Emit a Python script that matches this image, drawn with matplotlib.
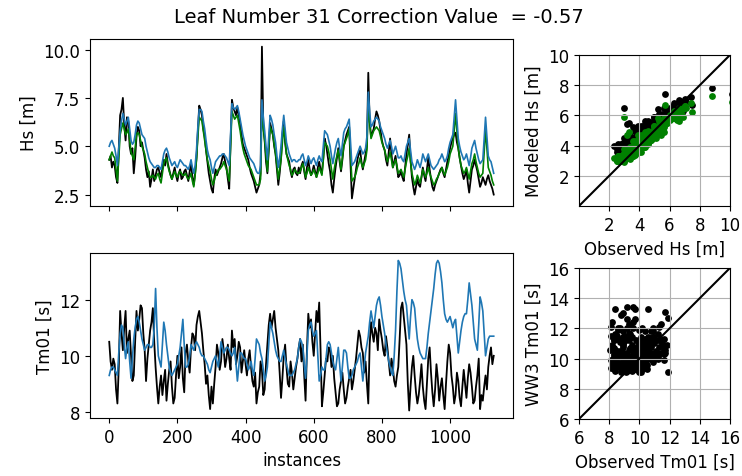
import numpy as np
import matplotlib
matplotlib.use("Agg")
import matplotlib.pyplot as plt

plt.rcParams['font.size'] = 12

# instance index, one value every 4 instances
instances = np.arange(0, 1129, 4)

# Hs observed (black)
obs_hs = [4.3, 4.5, 3.9, 4.2, 4.0, 3.4, 3.1, 4.8, 6.6, 6.9, 7.5, 6.1, 5.3, 6.5, 6.3, 5.0, 4.6, 4.9, 3.6, 4.4,
          5.5, 6.0, 5.8, 5.0, 5.2, 4.8, 4.4, 3.8, 3.4, 3.7, 2.9, 3.3, 3.8, 3.2, 3.5, 3.8, 3.9, 3.6, 3.4, 3.9,
          4.3, 4.0, 4.6, 4.1, 3.8, 3.5, 3.3, 3.6, 3.9, 3.5, 3.2, 3.6, 3.8, 3.3, 3.4, 3.7, 3.8, 3.5, 3.2, 3.7,
          4.1, 3.4, 3.0, 3.6, 4.4, 5.8, 7.1, 6.9, 6.6, 5.9, 5.5, 4.8, 4.2, 3.6, 3.2, 2.8, 2.6, 3.3, 3.8, 3.5,
          3.7, 3.9, 4.1, 4.4, 4.6, 4.2, 3.9, 3.3, 2.8, 5.2, 7.4, 7.0, 6.8, 6.6, 7.0, 6.6, 6.2, 5.6, 5.1, 4.9,
          4.7, 4.5, 4.3, 3.9, 3.6, 3.4, 3.2, 2.9, 2.6, 2.8, 3.0, 3.6, 10.15, 6.0, 5.3, 4.2, 3.6, 4.8, 6.2, 5.9,
          5.6, 5.0, 4.6, 3.8, 3.0, 3.6, 4.4, 5.6, 6.3, 5.2, 4.6, 4.4, 4.2, 3.7, 3.4, 3.8, 3.9, 3.6, 3.5, 3.9,
          3.6, 4.0, 4.2, 3.7, 3.3, 3.9, 4.3, 3.8, 3.5, 3.7, 4.0, 3.7, 3.4, 3.9, 4.2, 3.8, 3.6, 4.4, 5.4, 5.1,
          4.6, 4.1, 3.7, 3.0, 2.6, 3.3, 3.9, 4.4, 4.9, 4.2, 3.7, 4.3, 5.0, 5.3, 5.6, 5.8, 6.0, 4.0, 2.3, 2.8,
          3.3, 3.8, 4.3, 4.6, 4.8, 4.2, 3.8, 4.2, 4.6, 5.0, 8.8, 6.3, 5.5, 5.7, 5.9, 6.4, 6.8, 6.6, 6.3, 5.8,
          5.3, 5.0, 4.8, 4.3, 4.0, 4.7, 5.4, 4.6, 3.9, 4.2, 4.5, 3.9, 3.4, 3.5, 3.7, 3.4, 3.2, 3.9, 4.6, 5.1,
          5.6, 4.3, 3.4, 2.9, 2.5, 2.9, 3.3, 3.0, 2.9, 3.4, 3.9, 3.5, 3.2, 3.8, 4.4, 3.8, 3.3, 2.9, 2.7, 3.0,
          3.2, 3.4, 3.6, 3.8, 3.9, 3.6, 3.4, 3.8, 4.2, 4.5, 4.9, 5.2, 5.4, 5.6, 5.7, 5.2, 4.9, 4.4, 4.0, 3.6,
          3.3, 3.5, 3.8, 3.1, 2.6, 3.2, 3.8, 4.0, 4.3, 4.0, 3.7, 3.3, 2.9, 3.1, 3.4, 3.2, 3.0, 3.3, 3.5, 3.2,
          3.0, 2.8, 2.5]

# Hs WW3 model (blue)
ww3_hs = [5.0, 5.2, 5.3, 5.1, 4.9, 4.5, 4.0, 4.9, 5.8, 6.3, 6.7, 6.4, 6.1, 6.3, 6.5, 5.9, 5.3, 5.1, 5.2, 5.6,
          6.1, 6.3, 6.2, 5.9, 5.6, 5.5, 5.4, 5.0, 4.7, 4.4, 4.2, 4.1, 4.0, 3.9, 3.9, 4.0, 4.0, 3.9, 3.8, 4.2,
          4.6, 4.8, 4.9, 4.7, 4.4, 4.2, 4.0, 4.1, 4.2, 4.0, 3.9, 4.1, 4.3, 4.2, 4.1, 4.0, 4.0, 3.9, 3.8, 4.0,
          4.3, 3.9, 3.6, 4.0, 4.8, 6.0, 6.9, 6.9, 6.8, 6.3, 5.9, 5.3, 4.8, 4.5, 4.3, 3.9, 3.6, 3.9, 4.2, 4.3,
          4.4, 4.5, 4.5, 4.6, 4.6, 4.5, 4.4, 4.2, 4.0, 5.6, 7.2, 7.0, 6.9, 7.0, 7.1, 6.8, 6.4, 6.0, 5.6, 5.3,
          5.0, 4.8, 4.6, 4.4, 4.3, 4.2, 4.1, 3.9, 3.7, 3.6, 3.6, 4.0, 7.4, 6.5, 5.8, 5.0, 4.3, 5.5, 6.6, 6.4,
          6.1, 5.6, 5.2, 4.5, 3.9, 4.4, 5.0, 5.9, 6.6, 5.9, 5.2, 4.9, 4.6, 4.4, 4.2, 4.3, 4.3, 4.2, 4.2, 4.3,
          4.3, 4.5, 4.6, 4.3, 4.0, 4.2, 4.5, 4.3, 4.1, 4.3, 4.4, 4.2, 4.0, 4.3, 4.5, 4.3, 4.2, 5.0, 5.8, 5.7,
          5.6, 5.3, 5.0, 4.5, 4.1, 4.5, 4.9, 5.2, 5.4, 4.9, 4.5, 5.1, 5.7, 5.9, 6.0, 6.2, 6.4, 5.2, 4.0, 4.1,
          4.2, 4.4, 4.6, 4.8, 5.0, 4.8, 4.6, 4.7, 4.9, 5.5, 7.8, 6.8, 6.0, 6.1, 6.3, 6.4, 6.5, 6.4, 6.3, 6.0,
          5.8, 5.6, 5.4, 5.1, 4.9, 5.1, 5.3, 5.0, 4.6, 4.8, 5.0, 4.7, 4.4, 4.4, 4.5, 4.3, 4.2, 4.6, 5.0, 5.2,
          5.4, 4.8, 4.2, 4.0, 3.8, 4.0, 4.3, 4.1, 3.9, 4.2, 4.6, 4.4, 4.2, 4.4, 4.6, 4.3, 4.0, 3.9, 3.8, 3.9,
          4.0, 4.1, 4.3, 4.4, 4.6, 4.4, 4.2, 4.3, 4.5, 4.9, 5.2, 5.4, 5.6, 6.5, 7.4, 6.4, 5.4, 5.0, 4.7, 4.5,
          4.3, 4.4, 4.6, 4.3, 4.0, 4.4, 4.9, 5.1, 5.3, 4.9, 4.6, 4.3, 4.1, 4.2, 4.3, 5.4, 6.5, 5.5, 4.5, 4.3,
          4.2, 3.9, 3.6]

# Hs corrected model (green)
cor_hs = [4.3, 4.5, 4.7, 4.5, 4.4, 3.8, 3.2, 4.4, 5.6, 5.9, 6.2, 5.9, 5.6, 5.7, 5.9, 5.3, 4.7, 4.5, 4.3, 4.9,
          5.6, 5.7, 5.6, 5.3, 5.0, 4.8, 4.6, 4.2, 3.9, 3.6, 3.4, 3.4, 3.5, 3.4, 3.3, 3.5, 3.6, 3.3, 3.1, 3.6,
          4.1, 4.3, 4.4, 4.0, 3.7, 3.5, 3.3, 3.5, 3.7, 3.5, 3.4, 3.6, 3.7, 3.6, 3.5, 3.5, 3.6, 3.4, 3.3, 3.4,
          3.6, 3.2, 2.9, 3.5, 4.3, 5.5, 6.5, 6.4, 6.3, 5.8, 5.3, 4.8, 4.3, 4.0, 3.7, 3.3, 3.0, 3.2, 3.5, 3.6,
          3.8, 3.8, 3.9, 4.0, 4.2, 4.0, 3.8, 3.5, 3.2, 5.0, 6.8, 6.6, 6.4, 6.5, 6.6, 6.2, 5.8, 5.3, 4.9, 4.6,
          4.4, 4.2, 4.0, 3.9, 3.8, 3.6, 3.4, 3.2, 3.0, 3.0, 3.0, 3.3, 6.9, 6.0, 5.3, 4.5, 3.7, 4.9, 6.0, 5.8,
          5.6, 5.1, 4.6, 4.0, 3.3, 3.8, 4.3, 5.2, 6.0, 5.3, 4.6, 4.3, 4.0, 3.8, 3.5, 3.6, 3.8, 3.7, 3.6, 3.6,
          3.7, 3.9, 4.1, 3.8, 3.4, 3.6, 3.9, 3.7, 3.5, 3.6, 3.8, 3.6, 3.4, 3.6, 3.9, 3.7, 3.5, 4.3, 5.2, 5.1,
          5.0, 4.7, 4.3, 3.8, 3.3, 3.8, 4.2, 4.5, 4.8, 4.3, 3.8, 4.4, 5.0, 5.2, 5.4, 5.6, 5.9, 4.5, 3.2, 3.3,
          3.4, 3.6, 3.9, 4.1, 4.4, 4.1, 3.9, 4.1, 4.3, 4.8, 7.3, 6.3, 5.4, 5.6, 5.8, 5.9, 6.0, 5.9, 5.8, 5.5,
          5.2, 5.0, 4.8, 4.5, 4.2, 4.4, 4.7, 4.3, 3.9, 4.1, 4.3, 4.0, 3.6, 3.7, 3.8, 3.6, 3.4, 3.8, 4.2, 4.5,
          4.9, 4.2, 3.6, 3.3, 3.0, 3.2, 3.5, 3.3, 3.1, 3.4, 3.8, 3.6, 3.4, 3.6, 3.9, 3.6, 3.4, 3.2, 3.0, 3.1,
          3.3, 3.4, 3.6, 3.7, 3.9, 3.7, 3.5, 3.7, 3.9, 4.2, 4.6, 4.8, 5.0, 5.8, 6.7, 5.8, 4.9, 4.4, 4.0, 3.8,
          3.6, 3.7, 3.9, 3.6, 3.3, 3.7, 4.1, 4.3, 4.6, 4.2, 3.9, 3.6, 3.4, 3.5, 3.6, 4.7, 5.9, 4.9, 3.9, 3.7,
          3.5, 3.2, 3.0]

# Tm01 observed (black)
obs_tm = [10.5, 9.8, 9.5, 9.9, 9.7, 8.8, 8.3, 9.6, 11.6, 10.8, 10.2, 11.0, 11.6, 10.1, 10.6, 10.9, 10.0, 9.1, 9.3, 10.5,
          11.6, 10.9, 11.3, 11.8, 11.7, 10.8, 10.2, 9.1, 9.9, 10.4, 10.9, 11.2, 11.7, 10.5, 9.6, 8.9, 8.3, 8.9, 9.3, 8.6,
          9.1, 9.5, 8.4, 9.0, 9.5, 9.8, 8.9, 8.3, 8.5, 9.3, 10.0, 9.2, 9.6, 10.3, 9.2, 8.7, 10.1, 10.4, 9.8, 9.4,
          10.3, 10.8, 10.7, 10.2, 11.1, 11.4, 11.6, 11.2, 10.8, 10.2, 9.7, 9.0, 9.3, 8.6, 8.1, 8.9, 8.3, 9.0, 9.6, 10.4,
          10.1, 9.5, 9.8, 10.6, 10.2, 9.6, 9.9, 10.4, 9.9, 9.5, 10.9, 10.3, 10.6, 9.7, 10.0, 10.5, 10.3, 9.4, 9.8, 10.2,
          9.7, 9.3, 9.9, 10.2, 9.6, 9.1, 8.9, 9.4, 8.3, 8.7, 8.9, 9.8, 9.5, 8.6, 8.8, 9.7, 10.4, 11.1, 11.5, 11.0,
          11.3, 11.6, 11.0, 10.6, 10.2, 9.4, 8.5, 9.2, 10.0, 10.4, 9.6, 9.0, 8.9, 9.8, 9.4, 8.8, 9.2, 9.6, 9.9, 10.3,
          10.6, 9.8, 10.4, 9.3, 8.4, 10.2, 11.5, 11.0, 11.3, 10.5, 10.0, 10.8, 11.6, 11.2, 11.9, 10.2, 8.2, 8.7, 9.3, 9.9,
          9.8, 10.3, 10.2, 9.6, 10.0, 9.2, 8.7, 8.2, 8.3, 8.8, 9.1, 9.4, 8.8, 8.3, 8.5, 8.9, 9.2, 9.5, 8.8, 9.1,
          9.5, 9.9, 10.4, 10.9, 10.7, 10.3, 10.1, 9.4, 9.8, 9.0, 8.3, 10.4, 11.2, 10.8, 10.5, 11.0, 10.8, 10.2, 11.3, 10.9,
          10.6, 10.2, 10.0, 10.7, 10.3, 9.8, 9.3, 9.9, 9.6, 9.1, 8.9, 9.3, 9.6, 10.6, 11.7, 11.9, 11.4, 10.9, 10.4, 9.0,
          8.05, 8.9, 9.6, 10.0, 9.3, 8.7, 8.3, 8.6, 9.1, 9.7, 8.9, 8.4, 8.1, 9.0, 9.9, 10.3, 9.4, 8.7, 8.2, 8.8,
          9.7, 9.2, 8.4, 8.9, 9.2, 8.6, 8.1, 9.0, 9.8, 10.4, 10.1, 9.3, 8.9, 8.3, 8.6, 9.4, 9.1, 8.5, 8.2, 8.9,
          9.5, 9.0, 8.5, 9.2, 9.7, 9.4, 8.9, 8.3, 8.4, 8.9, 9.3, 9.9, 8.1, 8.6, 8.4, 8.9, 9.3, 8.8, 9.6, 10.0,
          10.3, 9.7, 10.0]

# Tm01 WW3 model (blue)
ww3_tm = [9.3, 9.5, 9.6, 9.6, 9.5, 9.4, 9.3, 10.1, 10.8, 11.1, 11.0, 10.4, 9.9, 10.3, 10.5, 9.8, 9.2, 9.9, 10.6, 11.0,
          11.3, 11.4, 11.2, 10.9, 10.6, 10.4, 10.2, 10.3, 10.4, 10.4, 10.3, 10.3, 10.4, 11.0, 12.4, 11.0, 10.0, 9.8, 9.6, 10.4,
          11.2, 10.9, 10.4, 10.0, 9.6, 9.4, 9.3, 9.4, 9.5, 9.6, 9.7, 10.0, 10.3, 10.8, 11.3, 10.4, 9.6, 9.6, 9.7, 10.0,
          10.4, 10.3, 10.2, 10.4, 10.5, 10.4, 10.3, 10.1, 10.0, 10.0, 9.9, 9.8, 9.7, 9.5, 9.4, 9.6, 9.8, 9.9, 10.0, 9.8,
          9.6, 10.0, 10.5, 10.3, 10.1, 10.2, 10.3, 10.3, 10.2, 10.1, 10.0, 10.1, 10.3, 9.7, 9.1, 9.6, 10.1, 10.1, 10.0, 9.9,
          9.9, 9.7, 9.5, 9.6, 9.8, 9.5, 9.3, 9.9, 10.6, 10.5, 10.4, 10.1, 9.9, 9.5, 9.1, 9.3, 9.6, 10.4, 11.2, 11.0,
          10.8, 10.5, 10.2, 10.0, 9.9, 9.8, 9.8, 10.0, 10.2, 9.9, 9.7, 9.5, 9.3, 9.3, 9.3, 9.4, 9.5, 9.7, 9.9, 10.3,
          10.6, 10.5, 10.3, 9.7, 9.2, 10.0, 10.9, 11.1, 11.2, 10.9, 10.7, 10.8, 10.9, 10.0, 9.1, 9.3, 9.6, 9.5, 9.5, 9.9,
          10.4, 10.5, 10.4, 10.1, 9.8, 9.6, 9.5, 9.9, 10.3, 9.7, 9.1, 9.6, 10.2, 10.2, 10.1, 9.6, 9.2, 9.2, 9.3, 9.5,
          9.6, 9.7, 9.8, 10.0, 10.1, 9.6, 9.1, 9.6, 10.1, 10.4, 10.7, 11.2, 11.6, 11.3, 11.0, 11.4, 11.8, 12.0, 12.1, 11.8,
          11.4, 11.1, 10.8, 10.4, 10.1, 9.8, 9.6, 9.4, 9.3, 10.0, 10.9, 12.3, 13.4, 13.3, 13.1, 12.7, 12.3, 12.0, 11.8, 11.2,
          10.6, 11.4, 12.0, 11.9, 11.7, 11.1, 10.6, 10.3, 10.1, 10.0, 9.9, 9.9, 9.9, 10.3, 10.8, 11.2, 11.6, 12.0, 12.4, 12.9,
          13.3, 13.4, 13.3, 13.0, 12.6, 12.0, 11.5, 11.3, 11.2, 11.3, 11.4, 11.2, 11.0, 11.2, 11.3, 10.7, 10.1, 10.5, 10.9, 11.2,
          11.4, 11.5, 11.5, 12.0, 12.6, 12.2, 11.8, 11.2, 10.6, 10.4, 10.2, 11.1, 12.1, 11.9, 11.6, 10.8, 10.0, 10.3, 10.6, 10.7,
          10.7, 10.7, 10.7]

fig = plt.figure(figsize=(7.42, 4.77), dpi=100)

ax1 = fig.add_axes([0.1213, 0.566, 0.570, 0.350])
ax1.plot(instances, obs_hs, color='k', lw=1.3)
ax1.plot(instances, cor_hs, color='g', lw=1.2)
ax1.plot(instances, ww3_hs, color='C0', lw=1.2)
ax1.set_ylabel('Hs [m]')
ax1.set_yticks([2.5, 5.0, 7.5, 10.0])
ax1.set_xticks([0, 200, 400, 600, 800, 1000])
ax1.tick_params(labelbottom=False)

ax2 = fig.add_axes([0.1213, 0.1216, 0.570, 0.346])
ax2.plot(instances, obs_tm, color='k', lw=1.3)
ax2.plot(instances, ww3_tm, color='C0', lw=1.2)
ax2.set_ylabel('Tm01 [s]')
ax2.set_xlabel('instances')
ax2.set_xticks([0, 200, 400, 600, 800, 1000])
ax2.set_yticks([8, 10, 12])
ax2.set_xlim(ax1.get_xlim())

ax3 = fig.add_axes([0.7803, 0.566, 0.2035, 0.3166])
ax3.scatter(obs_hs, ww3_hs, s=24, color='k', linewidths=0)
ax3.scatter(obs_hs, cor_hs, s=24, color='g', linewidths=0)
ax3.plot([0, 10], [0, 10], color='k', lw=1.5)
ax3.set_xlim(0, 10)
ax3.set_ylim(0, 10)
ax3.set_xticks([2, 4, 6, 8, 10])
ax3.set_yticks([2, 4, 6, 8, 10])
ax3.grid(True)
ax3.set_xlabel('Observed Hs [m]')
ax3.set_ylabel('Modeled Hs [m]')

ax4 = fig.add_axes([0.7803, 0.1195, 0.2035, 0.3166])
ax4.scatter(obs_tm, ww3_tm, s=24, color='k', linewidths=0)
ax4.plot([6, 16], [6, 16], color='k', lw=1.5)
ax4.set_xlim(6, 16)
ax4.set_ylim(6, 16)
ax4.set_xticks([6, 8, 10, 12, 14, 16])
ax4.set_yticks([6, 8, 10, 12, 14, 16])
ax4.grid(True)
ax4.set_xlabel('Observed Tm01 [s]')
ax4.set_ylabel('WW3 Tm01 [s]')

fig.text(0.511, 0.964, 'Leaf Number 31 Correction Value  = -0.57',
         ha='center', va='center', fontsize=14)

fig.savefig('out.png', dpi=100)
